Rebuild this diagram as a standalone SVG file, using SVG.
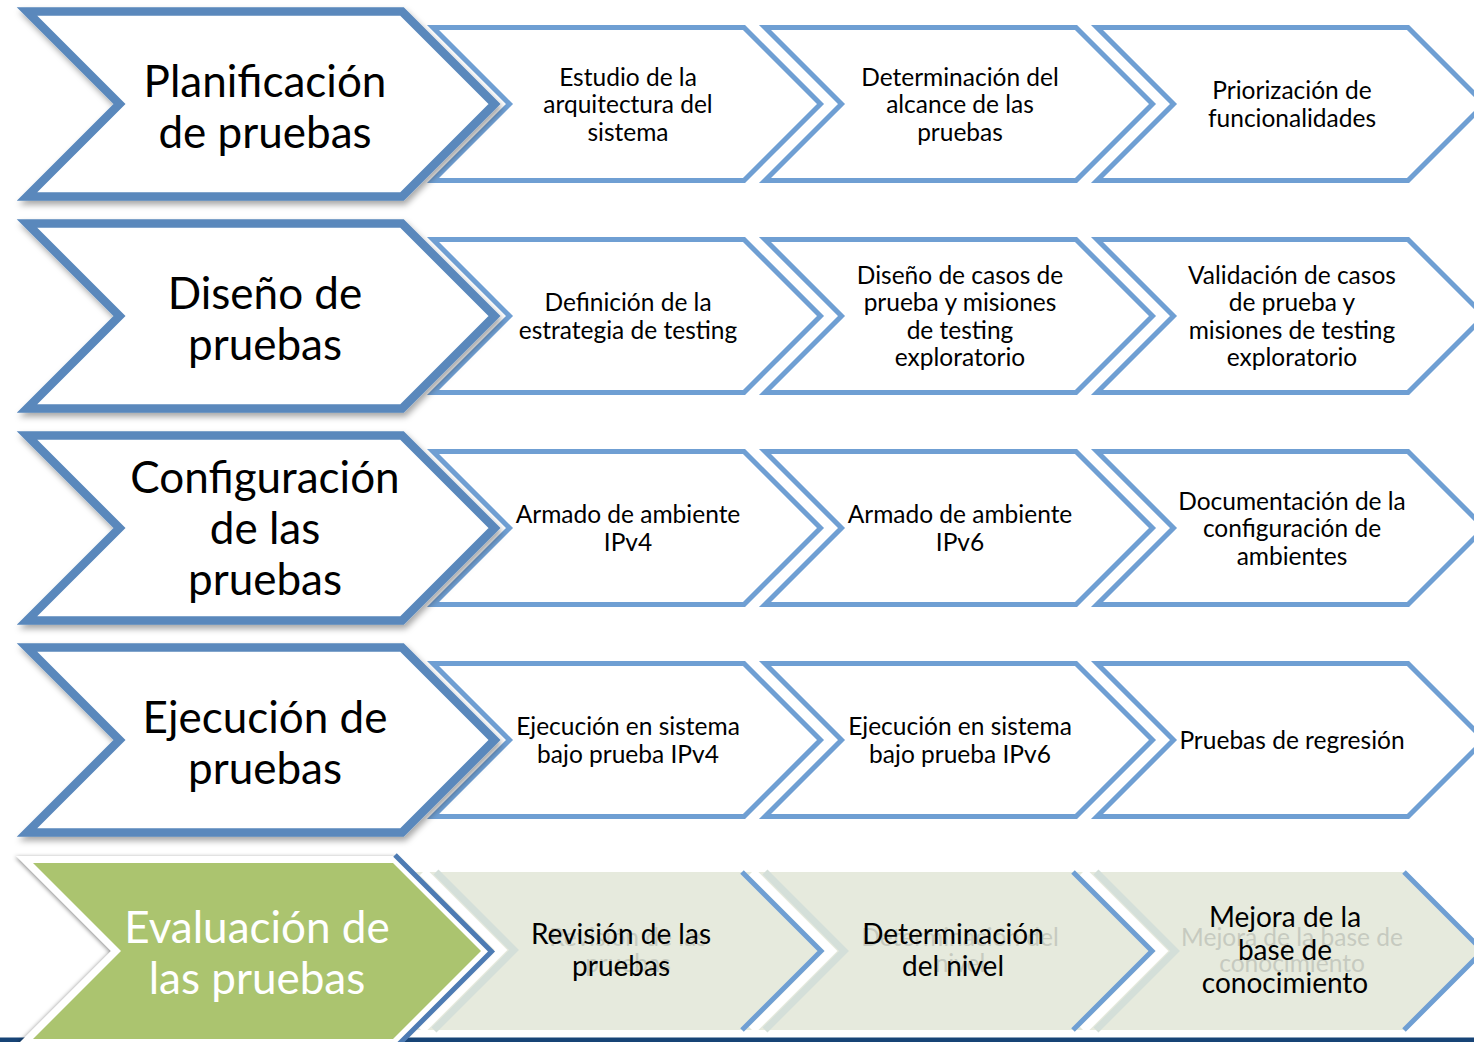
<svg xmlns="http://www.w3.org/2000/svg" width="1474" height="1042" viewBox="0 0 1474 1042">
<defs>
  <filter id="shBig" x="-10%" y="-10%" width="125%" height="130%">
    <feDropShadow dx="2" dy="4" stdDeviation="3" flood-color="#000" flood-opacity="0.35"/>
  </filter>
  <filter id="shGreen" x="-10%" y="-10%" width="125%" height="130%">
    <feDropShadow dx="-1" dy="1" stdDeviation="2" flood-color="#000" flood-opacity="0.45"/>
  </filter>
  <path id="big" d="M27,11.5 H402 L494.5,104 L402,196.5 H27 L119.5,104 Z"/>
  <path id="small" d="M0,27.5 H311 L387.5,104 L311,180.5 H0 L76.5,104 Z"/>
  <path id="green" d="M33,863 H393 L481,951 L393,1039 H33 L121,951 Z"/>
</defs>
<style>
  .big{fill:#fff;stroke:#5A88BC;stroke-width:8.5;stroke-linejoin:miter}
  .sm{fill:#fff;stroke:#6F9FD3;stroke-width:5;stroke-linejoin:miter}
  text{font-family:Lato,"Liberation Sans",sans-serif;text-anchor:middle}
  .t1{font-size:44px;fill:#000}
  .t2{font-size:24.5px;fill:#000}
  .t3{font-size:28px;fill:#000}
  .tw{font-size:44px;fill:#fff}
  .gh{font-size:24.5px;fill:#c6cac0}
  .blue{fill:none;stroke:#6F9FD3;stroke-width:5;stroke-linejoin:miter}
  .wht{fill:none;stroke:#fff;stroke-width:9;stroke-linejoin:miter}
  .ghb{fill:none;stroke:#D4DFD9;stroke-width:7;stroke-linejoin:miter}
</style>

<!-- Row 1 -->
<g id="r1c1"><use href="#small" x="433" class="sm"/>
  <text class="t2"><tspan x="628" y="85.5">Estudio de la</tspan><tspan x="628" y="113">arquitectura del</tspan><tspan x="628" y="140.5">sistema</tspan></text></g>
<g id="r1c2"><use href="#small" x="765" class="sm"/>
  <text class="t2"><tspan x="960" y="85.5">Determinación del</tspan><tspan x="960" y="113">alcance de las</tspan><tspan x="960" y="140.5">pruebas</tspan></text></g>
<g id="r1c3"><use href="#small" x="1097" class="sm"/>
  <text class="t2"><tspan x="1292" y="99.25">Priorización de</tspan><tspan x="1292" y="126.75">funcionalidades</tspan></text></g>
<g id="r1"><use href="#big" class="big" filter="url(#shBig)"/>
  <text class="t1"><tspan x="265" y="97">Planificación</tspan><tspan x="265" y="148">de pruebas</tspan></text></g>

<!-- Row 2 -->
<g id="r2c1"><use href="#small" x="433" y="212" class="sm"/>
  <text class="t2"><tspan x="628" y="311.25">Definición de la</tspan><tspan x="628" y="338.75">estrategia de testing</tspan></text></g>
<g id="r2c2"><use href="#small" x="765" y="212" class="sm"/>
  <text class="t2"><tspan x="960" y="283.75">Diseño de casos de</tspan><tspan x="960" y="311.25">prueba y misiones</tspan><tspan x="960" y="338.75">de testing</tspan><tspan x="960" y="366.25">exploratorio</tspan></text></g>
<g id="r2c3"><use href="#small" x="1097" y="212" class="sm"/>
  <text class="t2"><tspan x="1292" y="283.75">Validación de casos</tspan><tspan x="1292" y="311.25">de prueba y</tspan><tspan x="1292" y="338.75">misiones de testing</tspan><tspan x="1292" y="366.25">exploratorio</tspan></text></g>
<g id="r2"><use href="#big" y="212" class="big" filter="url(#shBig)"/>
  <text class="t1"><tspan x="265" y="309">Diseño de</tspan><tspan x="265" y="360">pruebas</tspan></text></g>

<!-- Row 3 -->
<g id="r3c1"><use href="#small" x="433" y="424" class="sm"/>
  <text class="t2"><tspan x="628" y="523.25">Armado de ambiente</tspan><tspan x="628" y="550.75">IPv4</tspan></text></g>
<g id="r3c2"><use href="#small" x="765" y="424" class="sm"/>
  <text class="t2"><tspan x="960" y="523.25">Armado de ambiente</tspan><tspan x="960" y="550.75">IPv6</tspan></text></g>
<g id="r3c3"><use href="#small" x="1097" y="424" class="sm"/>
  <text class="t2"><tspan x="1292" y="509.5">Documentación de la</tspan><tspan x="1292" y="537">configuración de</tspan><tspan x="1292" y="564.5">ambientes</tspan></text></g>
<g id="r3"><use href="#big" y="424" class="big" filter="url(#shBig)"/>
  <text class="t1"><tspan x="265" y="493">Configuración</tspan><tspan x="265" y="544">de las</tspan><tspan x="265" y="595">pruebas</tspan></text></g>

<!-- Row 4 -->
<g id="r4c1"><use href="#small" x="433" y="636" class="sm"/>
  <text class="t2"><tspan x="628" y="735.25">Ejecución en sistema</tspan><tspan x="628" y="762.75">bajo prueba IPv4</tspan></text></g>
<g id="r4c2"><use href="#small" x="765" y="636" class="sm"/>
  <text class="t2"><tspan x="960" y="735.25">Ejecución en sistema</tspan><tspan x="960" y="762.75">bajo prueba IPv6</tspan></text></g>
<g id="r4c3"><use href="#small" x="1097" y="636" class="sm"/>
  <text class="t2"><tspan x="1292" y="749">Pruebas de regresión</tspan></text></g>
<g id="r4"><use href="#big" y="636" class="big" filter="url(#shBig)"/>
  <text class="t1"><tspan x="265" y="733">Ejecución de</tspan><tspan x="265" y="784">pruebas</tspan></text></g>

<!-- Row 5 -->
<rect id="bar" x="0" y="1037.5" width="1474" height="5" fill="#174476"/>
<g id="r5band">
  <path d="M400,872 H1404 L1483,951 L1404,1030 H400 Z" fill="#E6EADD"/>
  <polyline class="ghb" points="436,872 514,950 434,1030"/>
  <polyline class="wht" points="423,872 501,950 421,1030"/>
</g>
<g id="r5c1">
  <polyline class="ghb" points="765,872 844,951 765,1030"/>
  <polyline class="wht" points="752,872 831,951 752,1030"/>
  <polyline class="blue" points="742,872 821,951 742,1030"/>
  <text class="gh"><tspan x="628" y="946">Revisión de las</tspan><tspan x="628" y="972">pruebas</tspan></text>
  <text class="t3"><tspan x="621" y="944">Revisión de las</tspan><tspan x="621" y="976">pruebas</tspan></text>
</g>
<g id="r5c2">
  <polyline class="ghb" points="1096,872 1175,951 1096,1030"/>
  <polyline class="wht" points="1083,872 1162,951 1083,1030"/>
  <polyline class="blue" points="1073,872 1152,951 1073,1030"/>
  <text class="gh"><tspan x="960" y="946">Determinación del</tspan><tspan x="960" y="972">nivel</tspan></text>
  <text class="t3"><tspan x="953" y="944">Determinación</tspan><tspan x="953" y="976">del nivel</tspan></text>
</g>
<g id="r5c3">
  <polyline class="blue" points="1404,872 1483,951 1404,1030"/>
  <text class="gh"><tspan x="1292" y="946">Mejora de la base de</tspan><tspan x="1292" y="972">conocimiento</tspan></text>
  <text class="t3"><tspan x="1285" y="927">Mejora de la</tspan><tspan x="1285" y="960">base de</tspan><tspan x="1285" y="993">conocimiento</tspan></text>
</g>
<g id="r5">
  <use href="#green" fill="#fff" stroke="#fff" stroke-width="14" stroke-linejoin="miter" filter="url(#shGreen)"/>
  <use href="#green" fill="#ABC46F"/>
  <polyline points="395,855 491.5,951.5 395,1048" fill="none" stroke="#4D7BB3" stroke-width="5" stroke-linejoin="miter"/>
  <text class="tw"><tspan x="257" y="943">Evaluación de</tspan><tspan x="257" y="994">las pruebas</tspan></text>
</g>
</svg>
